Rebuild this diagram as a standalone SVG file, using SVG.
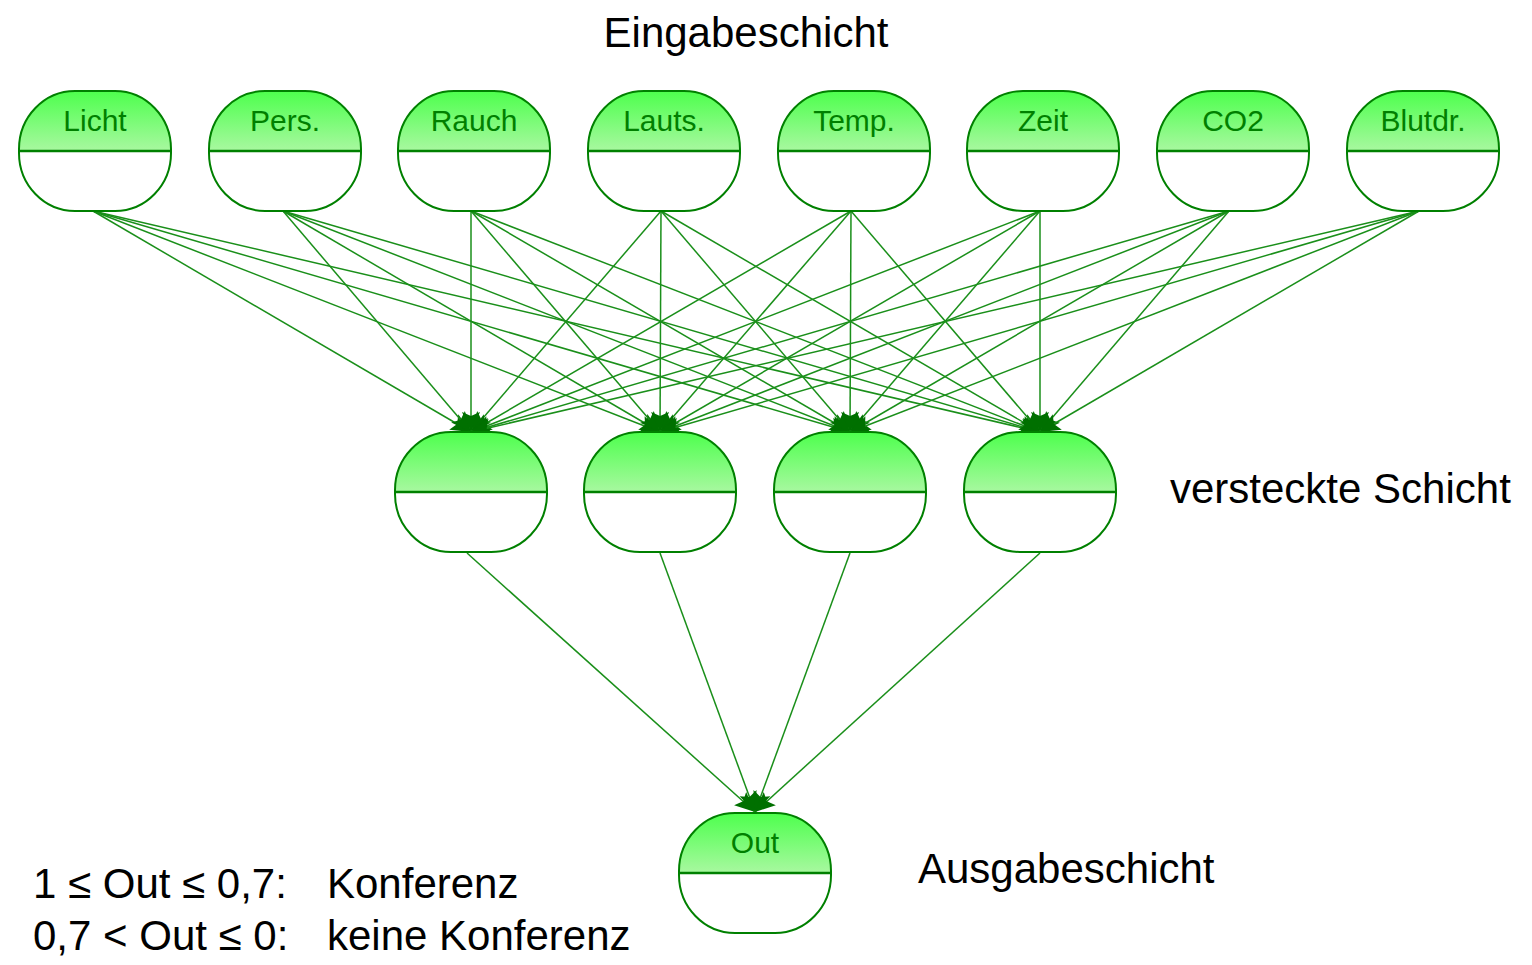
<svg xmlns="http://www.w3.org/2000/svg" xmlns:xlink="http://www.w3.org/1999/xlink" width="1532" height="965" viewBox="0 0 1532 965">
<style>
.lbl{font-family:"Liberation Sans",Arial,sans-serif;font-size:42px;fill:#000}
.nl{font-family:"Liberation Sans",Arial,sans-serif;font-size:30px;fill:#008000;text-anchor:middle}
.c{stroke:#1a8f1a;stroke-width:1.5;fill:none;marker-end:url(#ah)}
</style>
<defs>
<linearGradient id="g" gradientUnits="userSpaceOnUse" x1="0" y1="0" x2="0" y2="60">
<stop offset="0" stop-color="#4dff4d"/>
<stop offset="1" stop-color="#a8f8a0"/>
</linearGradient>
<clipPath id="tc"><rect x="-2" y="-2" width="156" height="62"/></clipPath>
<marker id="ah" markerWidth="26" markerHeight="26" refX="22" refY="13" orient="auto" markerUnits="userSpaceOnUse">
<path d="M22,13 L2,4 L6,13 L2,22 z" fill="#007000"/>
</marker>
<g id="node">
<rect x="0" y="0" width="152" height="120" rx="56" ry="58" fill="#fff"/>
<rect x="0" y="0" width="152" height="120" rx="56" ry="58" fill="url(#g)" clip-path="url(#tc)"/>
<line x1="0" y1="60" x2="152" y2="60" stroke="#008000" stroke-width="2.5"/>
<rect x="0" y="0" width="152" height="120" rx="56" ry="58" fill="none" stroke="#008000" stroke-width="2"/>
</g>
</defs>
<rect width="1532" height="965" fill="#fff"/>
<g id="connectors">
<path class="c" d="M93,211L471,432"/><path class="c" d="M93,211L660,432"/><path class="c" d="M93,211L850,432"/><path class="c" d="M93,211L1040,432"/>
<path class="c" d="M283,211L471,432"/><path class="c" d="M283,211L660,432"/><path class="c" d="M283,211L850,432"/><path class="c" d="M283,211L1040,432"/>
<path class="c" d="M471,211L471,432"/><path class="c" d="M471,211L660,432"/><path class="c" d="M471,211L850,432"/><path class="c" d="M471,211L1040,432"/>
<path class="c" d="M661,211L471,432"/><path class="c" d="M661,211L660,432"/><path class="c" d="M661,211L850,432"/><path class="c" d="M661,211L1040,432"/>
<path class="c" d="M851,211L471,432"/><path class="c" d="M851,211L660,432"/><path class="c" d="M851,211L850,432"/><path class="c" d="M851,211L1040,432"/>
<path class="c" d="M1040,211L471,432"/><path class="c" d="M1040,211L660,432"/><path class="c" d="M1040,211L850,432"/><path class="c" d="M1040,211L1040,432"/>
<path class="c" d="M1229,211L471,432"/><path class="c" d="M1229,211L660,432"/><path class="c" d="M1229,211L850,432"/><path class="c" d="M1229,211L1040,432"/>
<path class="c" d="M1419,211L471,432"/><path class="c" d="M1419,211L660,432"/><path class="c" d="M1419,211L850,432"/><path class="c" d="M1419,211L1040,432"/>
<path class="c" d="M467,553L755,812"/><path class="c" d="M660,553L755,812"/><path class="c" d="M850,553L755,812"/><path class="c" d="M1040,553L755,812"/>
</g>
<g id="in1" transform="translate(19,91)"><use xlink:href="#node"/><text class="nl" x="76" y="40">Licht</text></g>
<g id="in2" transform="translate(209,91)"><use xlink:href="#node"/><text class="nl" x="76" y="40">Pers.</text></g>
<g id="in3" transform="translate(398,91)"><use xlink:href="#node"/><text class="nl" x="76" y="40">Rauch</text></g>
<g id="in4" transform="translate(588,91)"><use xlink:href="#node"/><text class="nl" x="76" y="40">Lauts.</text></g>
<g id="in5" transform="translate(778,91)"><use xlink:href="#node"/><text class="nl" x="76" y="40">Temp.</text></g>
<g id="in6" transform="translate(967,91)"><use xlink:href="#node"/><text class="nl" x="76" y="40">Zeit</text></g>
<g id="in7" transform="translate(1157,91)"><use xlink:href="#node"/><text class="nl" x="76" y="40">CO2</text></g>
<g id="in8" transform="translate(1347,91)"><use xlink:href="#node"/><text class="nl" x="76" y="40">Blutdr.</text></g>
<g id="h1" transform="translate(395,432)"><use xlink:href="#node"/></g>
<g id="h2" transform="translate(584,432)"><use xlink:href="#node"/></g>
<g id="h3" transform="translate(774,432)"><use xlink:href="#node"/></g>
<g id="h4" transform="translate(964,432)"><use xlink:href="#node"/></g>
<g id="out" transform="translate(679,813)"><use xlink:href="#node"/><text class="nl" x="76" y="40">Out</text></g>
<g id="labels">
<text class="lbl" x="746" y="47" text-anchor="middle">Eingabeschicht</text>
<text class="lbl" x="1170" y="503">versteckte Schicht</text>
<text class="lbl" x="918" y="883">Ausgabeschicht</text>
<text class="lbl" x="33" y="898">1 ≤ Out ≤ 0,7:</text>
<text class="lbl" x="327" y="898">Konferenz</text>
<text class="lbl" x="33" y="950">0,7 &lt; Out ≤ 0:</text>
<text class="lbl" x="327" y="950">keine Konferenz</text>
</g>
</svg>
